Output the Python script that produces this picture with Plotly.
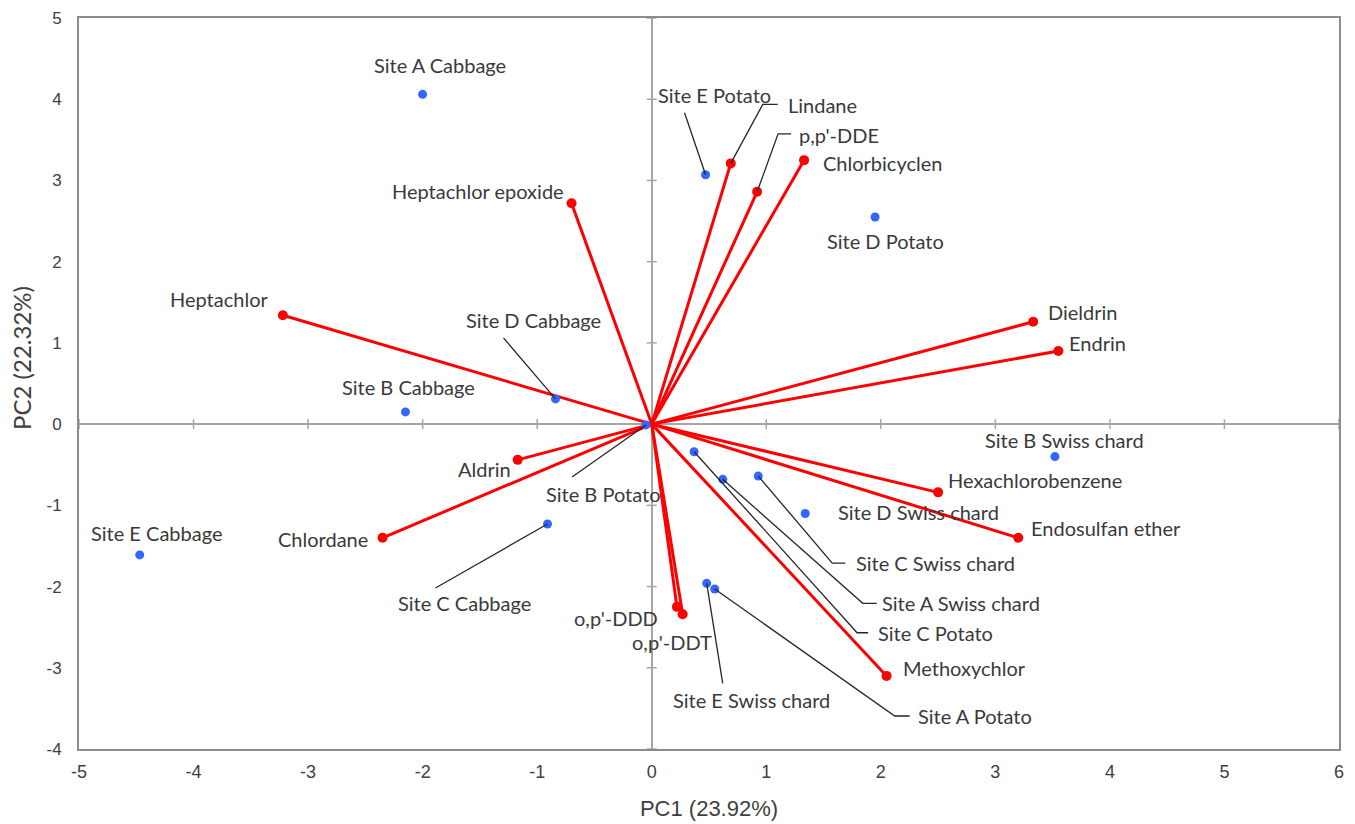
import plotly.graph_objects as go

# Loadings (variables) - red vectors
var_names = ["Heptachlor", "Heptachlor epoxide", "Lindane", "p,p'-DDE", "Chlorbicyclen",
             "Dieldrin", "Endrin", "Hexachlorobenzene", "Endosulfan ether", "Methoxychlor",
             "o,p'-DDD", "o,p'-DDT", "Aldrin", "Chlordane"]
var_pc1 = [-3.22, -0.70, 0.69, 0.92, 1.33, 3.33, 3.55, 2.50, 3.20, 2.05, 0.22, 0.27, -1.17, -2.35]
var_pc2 = [1.34, 2.72, 3.21, 2.86, 3.25, 1.26, 0.90, -0.84, -1.40, -3.10, -2.25, -2.34, -0.44, -1.40]

# Scores (samples) - blue points
site_names = ["Site A Cabbage", "Site E Potato", "Site D Potato", "Site D Cabbage", "Site B Cabbage",
              "Site B Potato", "Site E Cabbage", "Site C Cabbage", "Site B Swiss chard",
              "Site D Swiss chard", "Site C Swiss chard", "Site A Swiss chard", "Site C Potato",
              "Site E Swiss chard", "Site A Potato"]
site_pc1 = [-2.00, 0.47, 1.95, -0.84, -2.15, -0.05, -4.47, -0.91, 3.52, 1.34, 0.93, 0.62, 0.37, 0.48, 0.55]
site_pc2 = [4.06, 3.07, 2.55, 0.31, 0.15, -0.01, -1.61, -1.23, -0.40, -1.10, -0.64, -0.68, -0.34, -1.96, -2.03]

x_ticks = [-5, -4, -3, -2, -1, 0, 1, 2, 3, 4, 5, 6]
y_ticks = [-4, -3, -2, -1, 0, 1, 2, 3, 4, 5]

# Label placement: text-centre offsets in screen pixels (dx right, dy down)
label_off = {
    "Heptachlor": (-64, -16), "Heptachlor epoxide": (-94, -12), "Lindane": (92, -58),
    "p,p'-DDE": (82, -57), "Chlorbicyclen": (78, 3), "Dieldrin": (50, -10), "Endrin": (39, -8),
    "Hexachlorobenzene": (97, -12), "Endosulfan ether": (88, -10), "Methoxychlor": (78, -8),
    "o,p'-DDD": (-61, 11), "o,p'-DDT": (-11, 28), "Aldrin": (-33, 9), "Chlordane": (-60, 1),
    "Site A Cabbage": (17, -29), "Site E Potato": (9, -80), "Site D Potato": (10, 24),
    "Site D Cabbage": (-22, -79), "Site B Cabbage": (3, -25), "Site B Potato": (-43, 69),
    "Site E Cabbage": (17, -22), "Site C Cabbage": (-83, 79), "Site B Swiss chard": (10, -17),
    "Site D Swiss chard": (113, -1), "Site C Swiss chard": (177, 87), "Site A Swiss chard": (238, 124),
    "Site C Potato": (241, 181), "Site E Swiss chard": (45, 117), "Site A Potato": (260, 127),
}
# Leader line elbows (screen pixel offsets from the point)
leaders = {
    "Lindane": [(32, -59), (47, -59)], "p,p'-DDE": [(21, -58), (34, -58)],
    "Site E Potato": [(-21, -62)], "Site D Cabbage": [(-52, -61)], "Site B Potato": [(-74, 52)],
    "Site C Cabbage": [(-112, 64)], "Site C Swiss chard": [(74, 87), (87, 87)],
    "Site A Swiss chard": [(140, 124), (154, 124)], "Site C Potato": [(163, 181), (174, 181)],
    "Site E Swiss chard": [(16, 100)], "Site A Potato": [(180, 127), (195, 127)],
}

LABEL_FONT = dict(family="Lato, Carlito, Liberation Sans, sans-serif", size=20, color="#3a3a3a")
TICK_FONT = dict(family="Liberation Sans, Arial", size=18, color="#404040")

fig = go.Figure()

# red vectors from origin
lx, ly = [], []
for x, y in zip(var_pc1, var_pc2):
    lx += [0, x, None]
    ly += [0, y, None]
fig.add_trace(go.Scatter(x=lx, y=ly, mode="lines", line=dict(color="#ff0000", width=3),
                         hoverinfo="skip", showlegend=False))
fig.add_trace(go.Scatter(x=var_pc1, y=var_pc2, mode="markers", text=var_names,
                         marker=dict(color="#ff0000", size=10), showlegend=False))
fig.add_trace(go.Scatter(x=site_pc1, y=site_pc2, mode="markers", text=site_names,
                         marker=dict(color="#3366ff", size=9), showlegend=False))

shapes = []
annotations = []
all_pts = list(zip(var_names, var_pc1, var_pc2)) + list(zip(site_names, site_pc1, site_pc2))
for name, x, y in all_pts:
    dx, dy = label_off[name]
    annotations.append(dict(x=x, y=y, xref="x", yref="y", text=name, showarrow=False,
                            xshift=dx, yshift=-dy, xanchor="center", yanchor="middle",
                            font=LABEL_FONT))
    if name in leaders:
        path = "M0,0 " + " ".join("L%d,%d" % (px, -py) for px, py in leaders[name])
        shapes.append(dict(type="path", xref="x", yref="y", xsizemode="pixel", ysizemode="pixel",
                           xanchor=x, yanchor=y, path=path,
                           line=dict(color="#262626", width=1.3)))

# y-axis title as a rotated annotation (placed slightly above the axis centre, as in the original)
annotations.append(dict(x=0, y=0.535, xref="paper", yref="paper", xshift=-57, text="PC2 (22.32%)",
                        textangle=-90, showarrow=False, xanchor="center", yanchor="middle",
                        font=dict(family="Lato, Liberation Sans", size=24, color="#404040")))

# tick marks along the zero axes
for t in x_ticks:
    shapes.append(dict(type="line", xref="x", yref="y", ysizemode="pixel", yanchor=0,
                       x0=t, x1=t, y0=-5, y1=5, line=dict(color="#a6a6a6", width=1.5), layer="below"))
for t in y_ticks:
    shapes.append(dict(type="line", xref="x", yref="y", xsizemode="pixel", xanchor=0,
                       y0=t, y1=t, x0=-5, x1=5, line=dict(color="#a6a6a6", width=1.5), layer="below"))

# page body has an 8px default margin, so the figure is sized to fit the window
fig.update_layout(
    width=1347, height=816,
    margin=dict(l=71, r=16, t=10, b=75),
    paper_bgcolor="white", plot_bgcolor="white",
    shapes=shapes, annotations=annotations,
    xaxis=dict(range=[-5, 6], tickvals=x_ticks, ticktext=[str(t) for t in x_ticks],
               showgrid=False, zeroline=True, automargin=False, ticklabeloverflow="allow",
               zerolinecolor="#a6a6a6", zerolinewidth=1.5, showline=True, linecolor="#8c8c8c",
               linewidth=2, mirror=True, ticks="", ticklabelstandoff=5,
               tickfont=TICK_FONT,
               title=dict(text="PC1 (23.92%)", standoff=20,
                          font=dict(family="Liberation Sans, Arial", size=22, color="#404040"))),
    yaxis=dict(range=[-4, 5], tickvals=y_ticks, ticktext=[str(t) for t in y_ticks],
               showgrid=False, zeroline=True, automargin=False, ticklabeloverflow="allow",
               zerolinecolor="#a6a6a6", zerolinewidth=1.5, showline=True, linecolor="#8c8c8c",
               linewidth=2, mirror=True, ticks="", ticklabelstandoff=12,
               tickfont=dict(family="Liberation Sans, Arial", size=17, color="#404040")),
)

fig.write_html("out.html")
